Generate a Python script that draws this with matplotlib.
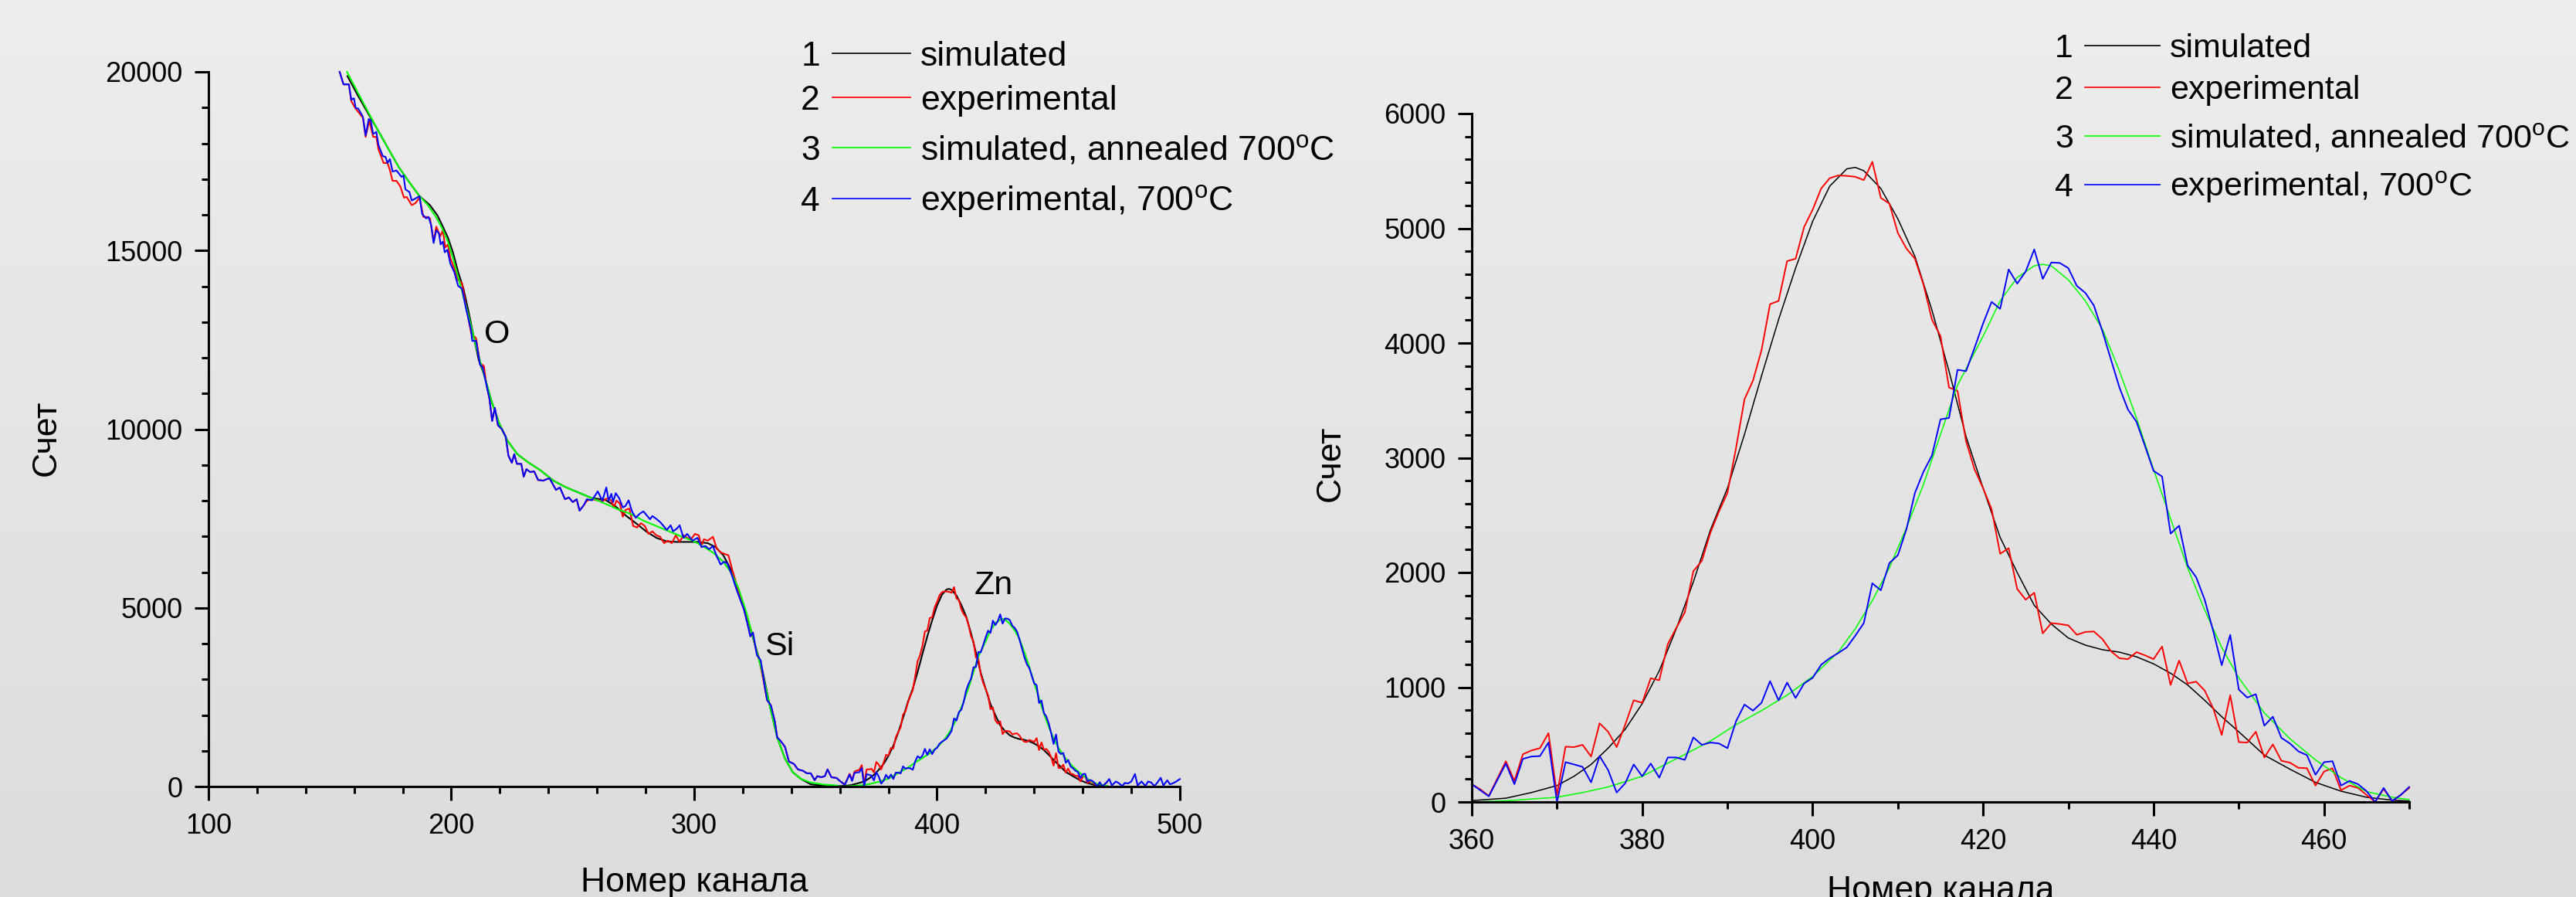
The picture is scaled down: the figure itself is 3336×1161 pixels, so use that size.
"""
RBS spectra: simulated vs experimental, as-grown and annealed at 700 C.
Left panel shows the full spectrum, right panel zooms into the Zn peak.
"""
import numpy as np
import matplotlib
matplotlib.use("Agg")
import matplotlib.pyplot as plt
from matplotlib.colors import LinearSegmentedColormap
from matplotlib.lines import Line2D
from matplotlib.ticker import MultipleLocator

plt.rcParams['font.family'] = ['Liberation Sans', 'DejaVu Sans']
plt.rcParams['mathtext.fontset'] = 'custom'
plt.rcParams['mathtext.rm'] = 'Liberation Sans'

W, H = 3337, 1161

# ---------------------------------------------------------------- data
# experimental (as grown), channels 154..359
exp_low_ch = [154.0, 155.6, 157.8, 158.8, 160.6, 163.6, 164.7, 166.2, 167.8, 169.1,
              170.0, 172.1, 173.7, 174.7, 175.8, 177.4, 179.0, 180.5, 181.6, 183.7,
              185.3, 186.9, 188.5, 190.1, 191.2, 192.7, 193.8, 195.4, 196.5, 197.5,
              198.6, 199.6, 201.8, 202.8, 204.4, 206.0, 208.1, 210.2, 211.8, 213.4,
              214.5, 215.7, 216.8, 217.9, 219.2, 220.8, 222.4, 223.5, 224.9, 225.9,
              227.0, 228.8, 229.8, 230.9, 232.5, 234.1, 235.7, 237.8, 240.4, 243.1,
              244.7, 246.8, 248.4, 250.0, 251.6, 252.8, 254.5, 255.8, 257.9, 262.2,
              264.3, 265.9, 266.9, 268.0, 269.4, 270.6, 271.7, 273.3, 274.9, 276.5,
              278.1, 279.7, 281.2, 282.8, 284.4, 286.0, 287.6, 289.2, 290.8, 292.4,
              294.0, 295.6, 297.1, 298.7, 300.3, 301.9, 303.0, 304.0, 305.6, 307.7,
              309.3, 310.9, 312.5, 314.1, 315.7, 317.3, 318.9, 320.5, 322.1, 323.6,
              325.2, 326.8, 328.4, 330.0, 331.6, 333.2, 334.2, 335.3, 337.4, 339.0,
              341.1, 342.7, 344.8, 346.4, 348.0, 349.6, 350.7, 352.3, 353.8, 354.9,
              356.5, 358.6]
exp_low = [20000, 19650, 19650, 19180, 18970, 18710, 18180, 18640, 18180, 18180,
           17830, 17450, 17450, 17250, 16950, 16950, 16790, 16480, 16500, 16270,
           16330, 16480, 15940, 15940, 15900, 15250, 15670, 15400, 15560, 15090,
           15170, 14780, 14400, 14170, 14090, 13470, 12700, 12540, 11850, 11770,
           11230, 10850, 10230, 10600, 10110, 10000, 9790, 9260, 9060, 9300,
           9030, 9030, 8670, 8880, 8800, 8820, 8580, 8560, 8630, 8300,
           8370, 8040, 8090, 7960, 8040, 7720, 7870, 8000, 8040, 7980,
           8070, 8000, 7810, 8000, 7920, 7550, 7740, 7780, 7290, 7250,
           7370, 7290, 7070, 7140, 7030, 6990, 6810, 6880, 6810, 7030,
           6850, 7030, 6960, 6920, 7070, 7030, 6730, 6920, 6880, 6990,
           6660, 6550, 6510, 6470, 6060, 5690, 5320, 4950, 4650, 4350,
           3900, 3530, 3010, 2420, 2270, 1820, 1370, 1300, 1110, 700,
           630, 480, 440, 370, 370, 180, 290, 260, 290, 480,
           260, 240]

# experimental, annealed 700 C, channels 154..359
exp700_low_ch = [154.0, 155.6, 157.8, 158.8, 159.9, 160.6, 161.7, 163.6, 164.7, 166.0,
                 166.8, 167.8, 169.1, 170.0, 171.8, 172.9, 173.7, 174.7, 175.8, 177.4,
                 179.5, 180.3, 181.1, 182.7, 183.7, 184.8, 186.9, 188.0, 189.6, 190.6,
                 191.7, 192.7, 193.8, 194.9, 195.6, 196.5, 197.3, 198.4, 199.6, 201.2,
                 202.8, 204.4, 206.0, 208.1, 208.6, 210.2, 211.8, 212.9, 214.5, 215.7,
                 216.8, 217.9, 219.2, 220.8, 222.4, 223.5, 224.9, 225.9, 227.0, 228.8,
                 229.8, 230.9, 232.5, 234.1, 235.7, 237.8, 240.4, 243.1, 244.7, 246.8,
                 248.4, 250.0, 251.6, 252.8, 254.5, 255.8, 257.9, 260.3, 262.2, 263.8,
                 264.8, 265.9, 266.6, 267.7, 269.1, 270.6, 271.7, 273.0, 274.4, 275.9,
                 277.5, 279.1, 280.7, 281.8, 282.8, 284.4, 286.0, 287.4, 288.7, 290.3,
                 291.3, 292.9, 294.0, 295.6, 297.1, 299.3, 301.4, 303.0, 304.6, 306.2,
                 307.7, 309.3, 310.9, 312.2, 313.6, 315.7, 317.3, 318.9, 320.5, 322.1,
                 323.1, 324.2, 325.8, 327.4, 328.9, 330.0, 331.6, 333.2, 334.2, 335.3,
                 337.4, 339.0, 341.1, 342.7, 344.8, 346.4, 348.0, 349.6, 350.7, 352.3,
                 353.8, 354.9, 356.5, 358.6]
exp700_low = [20000, 19650, 19650, 19220, 19260, 18990, 18970, 18740, 18220, 18680,
              18640, 18260, 18320, 17950, 17640, 17620, 17450, 17560, 17210, 17240,
              17060, 17100, 16710, 16640, 16400, 16440, 16520, 16020, 15900, 15940,
              15710, 15210, 15570, 15480, 15170, 15250, 14950, 15020, 14630, 14400,
              14010, 13930, 13390, 12780, 12470, 12470, 11810, 11730, 11230, 10850,
              10230, 10600, 10110, 10000, 9790, 9260, 9060, 9300, 9030, 9030,
              8670, 8880, 8800, 8820, 8580, 8560, 8630, 8300, 8370, 8040,
              8090, 7960, 8040, 7720, 7870, 8040, 8010, 8260, 8000, 8370,
              8000, 8190, 7960, 8210, 8070, 7810, 7850, 8010, 7700, 7520,
              7630, 7700, 7570, 7480, 7570, 7490, 7400, 7290, 7180, 7310,
              7140, 7220, 7310, 6960, 7070, 6880, 6960, 6700, 6730, 6640,
              6730, 6440, 6210, 6290, 6250, 5880, 5540, 5240, 4950, 4500,
              4200, 4310, 3680, 3530, 2860, 2420, 2270, 1820, 1370, 1300,
              1110, 700, 630, 480, 440, 370, 370, 180, 290, 260,
              290, 480, 260, 240]

# Zn peak, one value per channel 360..470
zn_ch = list(range(360, 471))
exp_zn = [155, 110, 53, 204, 355, 184, 416, 449, 469, 600,
          61, 482, 478, 498, 396, 686, 612, 478, 673, 886,
          865, 1078, 1061, 1376, 1518, 1653, 2012, 2102, 2347, 2531,
          2694, 3082, 3510, 3673, 3939, 4339, 4367, 4714, 4735, 5012,
          5163, 5347, 5437, 5461, 5457, 5449, 5420, 5580, 5265, 5216,
          4959, 4824, 4735, 4510, 4204, 4061, 3612, 3584, 3143, 2898,
          2735, 2551, 2163, 2212, 1857, 1763, 1824, 1469, 1559, 1551,
          1539, 1457, 1482, 1486, 1420, 1314, 1253, 1245, 1306, 1278,
          1245, 1355, 1020, 1233, 1033, 1049, 971, 816, 584, 931,
          522, 518, 612, 388, 502, 359, 343, 298, 294, 143,
          265, 294, 102, 143, 122, 61, 0, 114, 8, 61,
          122]
exp700_zn = [155, 102, 49, 192, 335, 155, 376, 396, 400, 518,
             0, 347, 327, 306, 171, 400, 278, 82, 163, 327,
             224, 335, 212, 388, 388, 367, 563, 498, 518, 510,
             469, 702, 849, 796, 865, 1053, 886, 1041, 906, 1033,
             1082, 1196, 1253, 1298, 1347, 1449, 1559, 1906, 1845, 2082,
             2151, 2376, 2694, 2878, 3020, 3335, 3347, 3767, 3755, 3959,
             4171, 4359, 4298, 4641, 4518, 4624, 4816, 4559, 4702, 4698,
             4653, 4498, 4437, 4327, 4102, 3857, 3612, 3420, 3314, 3102,
             2886, 2837, 2339, 2408, 2061, 1959, 1763, 1490, 1192, 1457,
             980, 910, 939, 665, 743, 559, 510, 441, 408, 237,
             347, 355, 143, 184, 155, 94, 0, 122, 8, 61,
             131]

# annealed experimental spectrum beyond the Zn edge
exp700_tail_ch = [470.9, 472.0, 473.6, 474.7, 476.3, 477.3, 478.6, 480.0, 481.5, 482.6,
                  484.2, 485.8, 486.9, 488.1, 489.5, 490.6, 492.1, 493.2, 494.8, 495.9,
                  497.4, 498.5, 500.0]
exp700_tail = [210, 30, 140, 100, 15, 100, 85, 140, 350, 30,
               140, 15, 140, 115, 15, 100, 245, 30, 175, 60,
               100, 140, 210]

# simulated (as grown)
sim_ch = [157.2, 161.5, 165.7, 170.0, 174.2, 178.4, 182.7, 186.9, 191.2, 194.3,
          196.5, 198.6, 200.7, 202.8, 205.0, 207.0, 209.1, 211.3, 213.4, 216.6,
          219.8, 223.0, 227.2, 231.5, 236.7, 242.0, 247.3, 252.6, 257.9, 263.2,
          267.5, 271.7, 276.0, 280.2, 284.4, 288.7, 292.9, 297.1, 301.4, 305.6,
          308.8, 312.0, 315.2, 318.3, 321.5, 324.7, 327.9, 331.1, 334.2, 337.4,
          340.6, 343.8, 348.0, 353.3, 358.6,
          360, 364, 367, 370, 372, 374, 376, 378, 380, 382,
          384, 386, 388, 390, 392, 394, 396, 398, 400, 402,
          404, 405, 406, 408, 410, 412, 414, 416, 418, 420,
          422, 424, 426, 428, 430, 432, 434, 436, 438, 440,
          442, 444, 446, 448, 450, 453, 456, 459, 462, 465,
          468, 470]
sim = [19880, 19340, 18840, 18340, 17830, 17330, 16910, 16520, 16270, 15980,
       15670, 15360, 14940, 14400, 13930, 13320, 12620, 11930, 11540, 10770,
       10150, 9690, 9300, 9080, 8850, 8560, 8370, 8220, 8070, 8030,
       7850, 7590, 7370, 7140, 6960, 6860, 6845, 6845, 6845, 6810,
       6700, 6470, 6060, 5470, 4800, 4050, 3310, 2270, 1370, 780,
       400, 220, 60, 30, 15,
       12, 33, 82, 143, 224, 327, 469, 633, 857, 1143,
       1510, 1918, 2370, 2735, 3204, 3714, 4204, 4653, 5061, 5367,
       5518, 5531, 5502, 5347, 5082, 4755, 4286, 3755, 3184, 2735,
       2306, 2000, 1714, 1551, 1429, 1367, 1327, 1306, 1265, 1204,
       1122, 1020, 886, 743, 612, 408, 286, 171, 94, 41,
       16, 8]

# simulated, annealed 700 C
sim700_ch = [157.0, 161.5, 165.7, 170.0, 174.2, 178.4, 182.7, 186.9, 190.1, 193.3,
             195.9, 198.6, 200.7, 203.8, 207.0, 210.2, 213.4, 216.6, 219.8, 223.0,
             227.2, 231.5, 236.7, 242.0, 247.3, 252.6, 257.9, 263.2, 268.5, 273.8,
             279.1, 284.4, 289.7, 295.0, 299.3, 303.5, 307.7, 312.0, 315.2, 318.3,
             321.5, 324.7, 327.9, 331.1, 334.2, 337.4, 340.6, 343.8, 348.0, 353.3,
             358.6,
             360, 364, 370, 373, 376, 380, 384, 388, 391, 394,
             397, 400, 403, 405, 407, 409, 411, 413, 415, 417,
             420, 422, 424, 426, 427, 428, 430, 432, 434, 436,
             438, 440, 442, 444, 446, 448, 450, 453, 456, 459,
             462, 465, 468, 470]
sim700 = [20000, 19420, 18880, 18340, 17830, 17330, 16910, 16520, 16290, 15980,
          15670, 15250, 14780, 14010, 13200, 12310, 11540, 10770, 10150, 9690,
          9300, 9080, 8850, 8560, 8370, 8220, 8070, 7920, 7760, 7630,
          7440, 7290, 7140, 6990, 6880, 6730, 6550, 6290, 5990, 5540,
          4870, 4050, 3230, 2270, 1370, 780, 400, 220, 110, 55,
          30,
          0, 10, 41, 82, 131, 224, 376, 531, 673, 796,
          931, 1094, 1306, 1510, 1755, 2041, 2388, 2767, 3204, 3633,
          4060, 4367, 4571, 4673, 4686, 4673, 4551, 4367, 4122, 3755,
          3347, 2898, 2469, 2041, 1673, 1347, 1082, 776, 551, 367,
          212, 90, 41, 20]

# the as-grown experimental spectrum ends at channel 470
exp_ch = np.array(exp_low_ch + zn_ch, dtype=float)
exp_cnt = np.array(exp_low + exp_zn, dtype=float)
exp700_ch = np.array(exp700_low_ch + zn_ch + exp700_tail_ch, dtype=float)
exp700_cnt = np.array(exp700_low + exp700_zn + exp700_tail, dtype=float)
sim_ch = np.array(sim_ch, dtype=float)
sim = np.array(sim, dtype=float)
sim700_ch = np.array(sim700_ch, dtype=float)
sim700 = np.array(sim700, dtype=float)

SERIES = [
    ('simulated', sim_ch, sim, 'black'),
    ('experimental', exp_ch, exp_cnt, '#ff0000'),
    (r'simulated, annealed 700$^{\mathrm{o}}$C', sim700_ch, sim700, '#00ff00'),
    (r'experimental, 700$^{\mathrm{o}}$C', exp700_ch, exp700_cnt, '#0000ff'),
]


# ---------------------------------------------------------------- helpers
def px_rect(x0, x1, y_bottom, y_top):
    """Axes rectangle from pixel coordinates of the reference."""
    return [x0 / W, 1 - y_bottom / H, (x1 - x0) / W, (y_bottom - y_top) / H]


def style_axes(ax, xmaj, xmin, ymaj, ymin):
    for side in ('top', 'right'):
        ax.spines[side].set_visible(False)
    for side in ('left', 'bottom'):
        ax.spines[side].set_linewidth(2.2)
    ax.set_facecolor('none')
    ax.xaxis.set_major_locator(MultipleLocator(xmaj))
    ax.xaxis.set_minor_locator(MultipleLocator(xmin))
    ax.yaxis.set_major_locator(MultipleLocator(ymaj))
    ax.yaxis.set_minor_locator(MultipleLocator(ymin))
    ax.tick_params(which='major', direction='out', length=13, width=2.2,
                   labelsize=26, colors='black')
    ax.tick_params(which='minor', direction='out', length=6.5, width=2.2)
    ax.tick_params(axis='x', pad=11.5)
    ax.tick_params(axis='y', pad=11)


def draw_legend(fig, x_num, x_line0, x_line1, x_text, rows_y, size):
    cap = size * 100 / 72 * 0.716
    for i, ((label, _, _, color), y) in enumerate(zip(SERIES, rows_y)):
        yb = 1 - (y + cap / 2) / H
        fig.text(x_num / W, yb, str(i + 1), ha='right', va='baseline', fontsize=size)
        fig.add_artist(Line2D([x_line0 / W, x_line1 / W], [1 - y / H, 1 - y / H],
                              color=color, lw=1.2, transform=fig.transFigure))
        fig.text(x_text / W, yb, label, ha='left', va='baseline', fontsize=size)


# ---------------------------------------------------------------- figure
fig = plt.figure(figsize=(W / 100, H / 100), dpi=100)

bg = fig.add_axes([0, 0, 1, 1], zorder=-10)
grad = LinearSegmentedColormap.from_list('bg', ['#ededed', '#dcdcdc'])
bg.imshow(np.linspace(0, 1, 256).reshape(-1, 1), aspect='auto', cmap=grad,
          extent=[0, 1, 0, 1])
bg.axis('off')

# left panel: whole spectrum
ax1 = fig.add_axes(px_rect(270, 1528, 1018, 93))
for label, ch, cnt, color in SERIES:
    ax1.plot(ch, cnt, color=color, lw=1.5, clip_on=False)
ax1.set_xlim(100, 500)
ax1.set_ylim(0, 20000)
style_axes(ax1, 100, 20, 5000, 1000)
ax1.text(213.5, 12400, 'O', fontsize=31, ha='left', va='baseline')
ax1.text(328.9, 3680, 'Si', fontsize=31, ha='left', va='baseline')
ax1.text(415.3, 5380, 'Zn', fontsize=31, ha='left', va='baseline')

# right panel: Zn peak
ax2 = fig.add_axes(px_rect(1906, 3120, 1038, 147))
for label, ch, cnt, color in SERIES:
    keep = (ch >= 360) & (ch <= 470)
    lw = 1.1 if label.startswith('sim') else 1.4
    ax2.plot(ch[keep], cnt[keep], color=color, lw=lw, clip_on=False)
ax2.set_xlim(360, 470)
ax2.set_ylim(0, 6000)
style_axes(ax2, 20, 10, 1000, 200)

# axis titles
fig.text(899 / W, 1 - 1122 / H, 'Номер канала', ha='center', va='top', fontsize=32)
fig.text(2513 / W, 1 - 1133 / H, 'Номер канала', ha='center', va='top', fontsize=32)
fig.text(60 / W, 1 - 567 / H, 'Счет', ha='center', va='center', rotation=90, fontsize=32)
fig.text(1723 / W, 1 - 600 / H, 'Счет', ha='center', va='center', rotation=90, fontsize=32)

# numbered legends
draw_legend(fig, 1062, 1078, 1179, 1192, [69, 126, 191, 257], 32)
draw_legend(fig, 2685, 2700, 2797, 2810, [59, 113, 176, 239], 31)

fig.savefig('out.png', dpi=100)
